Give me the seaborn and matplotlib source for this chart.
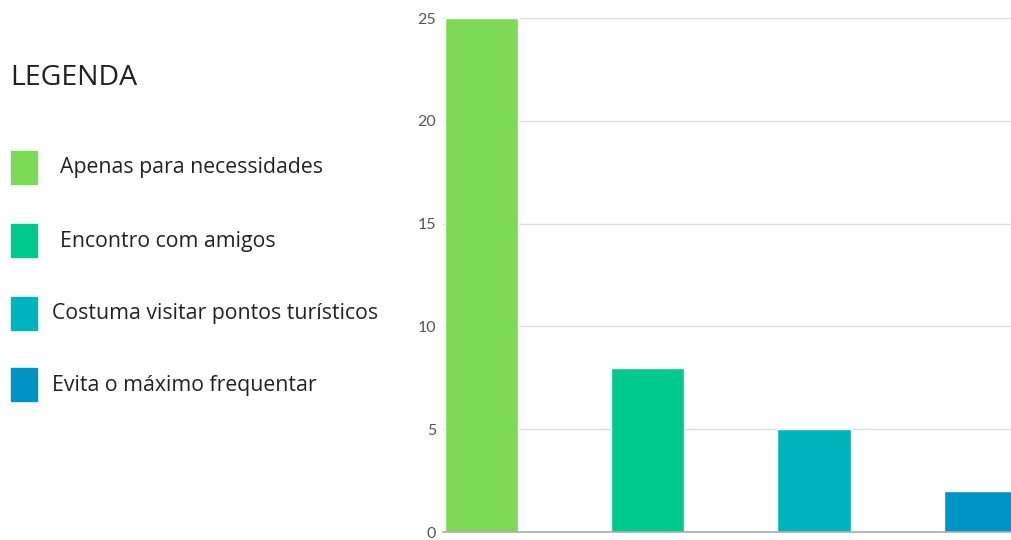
import matplotlib
matplotlib.use("Agg")
import matplotlib.pyplot as plt
from matplotlib.patches import Rectangle
import seaborn as sns
import pandas as pd

categories = ["Apenas para necessidades", "Encontro com amigos",
              "Costuma visitar pontos turísticos", "Evita o máximo frequentar"]
values = [25, 8, 5, 2]
colors = ["#7ED957", "#00C98D", "#00B4BD", "#0094C6"]
yticks = [0, 5, 10, 15, 20, 25]
legend_title = "LEGENDA"

sns.set_theme(style="white")
plt.rcParams['font.family'] = ['Open Sans', 'DejaVu Sans']

df = pd.DataFrame({"cat": categories, "val": values})

fig = plt.figure(figsize=(10.12, 5.4), dpi=100)
ax = fig.add_axes([443/1012, 1 - 532/540, 1 - 443/1012, (532 - 18)/540])

sns.barplot(data=df, x="cat", y="val", hue="cat", palette=colors,
            width=0.44, legend=False, ax=ax, saturation=1)

ax.set_ylim(0, 25)
ax.set_xlim(-0.23, 3.19)
ax.set_yticks(yticks)
ax.set_yticklabels([str(t) for t in yticks], fontfamily="Lato", fontsize=11.5, color="#555555")
ax.set_xticks([])
ax.set_xlabel("")
ax.set_ylabel("")
ax.yaxis.grid(True, color="#dedede", linewidth=1)
ax.set_axisbelow(True)
for s in ["top", "right", "left"]:
    ax.spines[s].set_visible(False)
ax.spines["bottom"].set_color("#aaaaaa")
ax.spines["bottom"].set_linewidth(1.2)
ax.tick_params(axis="y", length=0, pad=5)

# legend on the left
fig.text(10/1012, 1 - 78/540, legend_title, fontsize=20.5, color="#222222",
         va="center", ha="left")
sq_tops = [151, 224, 297, 368]
text_x = [60, 60, 52, 52]
for i, (c, lab) in enumerate(zip(colors, categories)):
    top = sq_tops[i]
    fig.patches.append(Rectangle((11/1012, 1 - (top + 33)/540), 26/1012, 33/540,
                                 transform=fig.transFigure, color=c))
    fig.text(text_x[i]/1012, 1 - (top + 17)/540, lab, fontsize=15.3,
             color="#222222", va="center", ha="left")

fig.savefig("out.png", dpi=100)
